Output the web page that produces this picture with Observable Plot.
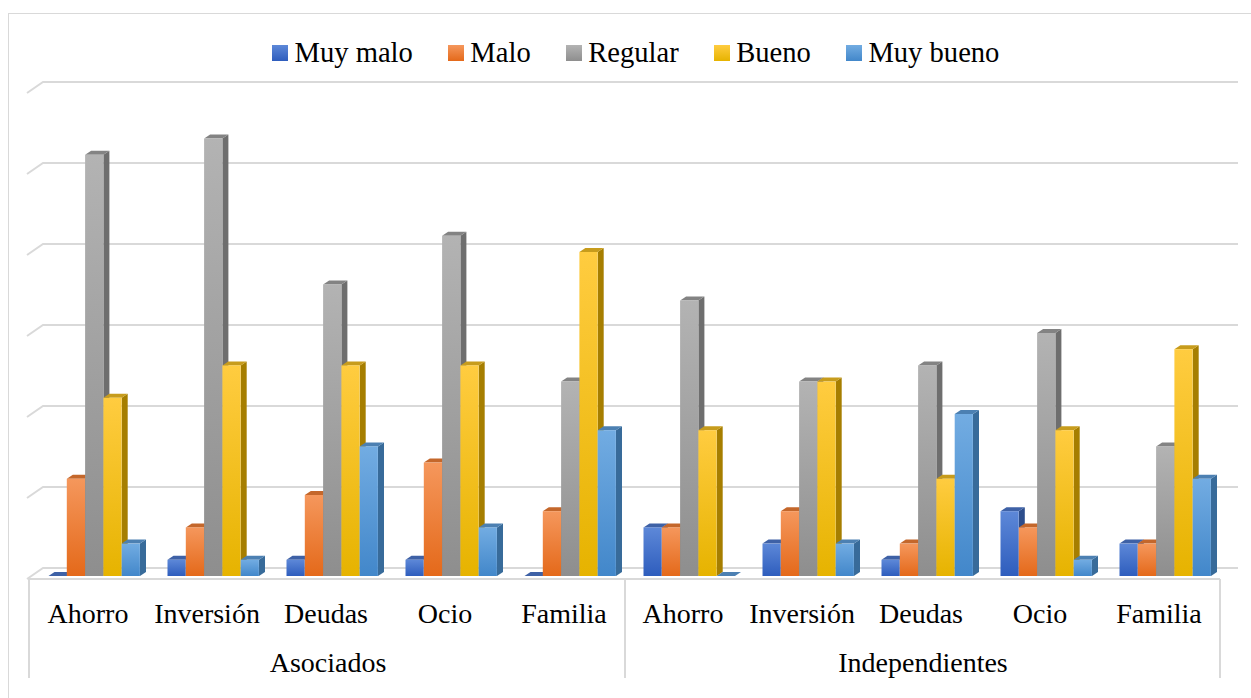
<!DOCTYPE html>
<html><head><meta charset="utf-8">
<script src="https://cdn.jsdelivr.net/npm/d3@7"></script>
<script src="https://cdn.jsdelivr.net/npm/@observablehq/plot@0.6"></script>
<style>
html,body{margin:0;padding:0;background:#fff;}
#wrap{position:relative;width:1251px;height:698px;overflow:hidden;background:#fff;font-family:'Liberation Serif','Times New Roman',serif;}
#frame{position:absolute;left:8px;top:13px;width:1400px;height:900px;border:1px solid #d9d9d9;box-sizing:border-box;}
#legend{position:absolute;left:272px;top:36px;height:33px;display:flex;align-items:center;color:#000;white-space:nowrap;font-size:28.6px;}
.item{display:flex;align-items:center;margin-right:35px;}
.sw{width:16px;height:16px;margin-right:6.5px;}
#chart{position:absolute;left:0;top:80px;}
</style></head>
<body><div id="wrap"><div id="frame"></div><div id="legend"></div><div id="chart"></div></div>
<script>
// ---- data ----
const seriesNames = ["Muy malo", "Malo", "Regular", "Bueno", "Muy bueno"];
const groups = ["Asociados", "Independientes"];
const categories = ["Ahorro", "Inversión", "Deudas", "Ocio", "Familia"];
// values per series: Asociados (Ahorro..Familia), Independientes (Ahorro..Familia)
const muyMalo  = [0, 1, 1, 1, 0,   3, 2, 1, 4, 2];
const malo     = [6, 3, 5, 7, 4,   3, 4, 2, 3, 2];
const regular  = [26, 27, 18, 21, 12,  17, 12, 13, 15, 8];
const bueno    = [11, 13, 13, 13, 20,  9, 12, 6, 9, 14];
const muyBueno = [2, 1, 8, 3, 9,   0, 2, 10, 1, 6];
const gridValues = [0, 5, 10, 15, 20, 25, 30];

// ---- styles ----
const palette = [
  {top: "#5d88d8", bottom: "#2e5dbd", side: "#2c4d8c", cap: "#3e61a6"},
  {top: "#f5975c", bottom: "#e4691a", side: "#a9561c", cap: "#c4672b"},
  {top: "#b3b3b3", bottom: "#8e8e8e", side: "#6e6e6e", cap: "#838383"},
  {top: "#ffcc40", bottom: "#e6b300", side: "#a67e00", cap: "#c79c1c"},
  {top: "#72ace2", bottom: "#4287ca", side: "#386b9a", cap: "#4c80b2"}
];
const fontFamily = "'Liberation Serif', 'Times New Roman', serif";
const labelSize = 28;

// legend
const legend = document.getElementById("legend");
seriesNames.forEach((name, i) => {
  const it = document.createElement("div");
  it.className = "item";
  const sw = document.createElement("div");
  sw.className = "sw";
  sw.style.background = `linear-gradient(${palette[i].top}, ${palette[i].bottom})`;
  const t = document.createElement("span");
  t.textContent = name;
  it.appendChild(sw); it.appendChild(t);
  legend.appendChild(it);
});

const keys = groups.flatMap(g => categories.map(c => g + "|" + c));
const seriesValues = [muyMalo, malo, regular, bueno, muyBueno];
const rows = seriesValues.map((vals, s) => vals.map((v, j) => ({key: keys[j], value: v, s})));

const W = 1251, H = 618;
const mL = 29, mR = 31, mT = 10, mB = 122;
const bandW = (W - mL - mR) / keys.length;
const barW = 18.3, barOff = 18.5, depthX = 6, depthY = 4;
const insetL = s => barOff + s * barW;
const insetR = s => bandW - insetL(s) - barW;
const lineColor = "#d9d9d9";

function defsMark() {
  const g = d3.create("svg:g");
  const defs = g.append("defs");
  palette.forEach((p, i) => {
    const lg = defs.append("linearGradient").attr("id", "grad" + i)
      .attr("x1", 0).attr("y1", 0).attr("x2", 0).attr("y2", 1);
    lg.append("stop").attr("offset", "0%").attr("stop-color", p.top);
    lg.append("stop").attr("offset", "100%").attr("stop-color", p.bottom);
  });
  return g.node();
}

function gridMark(index, scales, values, dims) {
  const {y} = scales;
  const g = d3.create("svg:g").attr("fill", "none").attr("stroke", lineColor).attr("stroke-width", 2);
  const x0 = dims.marginLeft, x1 = dims.width - dims.marginRight;
  for (const v of gridValues) {
    const yb = y(v) - 8;
    g.append("path").attr("d", `M${x0 - 2},${yb + 11}L${x0 + 14},${yb}L${x1 + 18},${yb}`);
  }
  return g.node();
}

function axisMark(index, scales, values, dims) {
  const {x, y} = scales;
  const g = d3.create("svg:g").attr("fill", "none").attr("stroke", lineColor).attr("stroke-width", 2);
  const x0 = dims.marginLeft, x1 = dims.width - dims.marginRight;
  const yf = y(0) + 3;
  g.append("path").attr("d", `M${x0},${yf}H${x1}`);
  const splits = [x0, x(keys[categories.length]), x1];
  for (const xs of splits) g.append("path").attr("d", `M${xs},${yf}V${yf + 99}`);
  return g.node();
}

function facesMark(s) {
  return (index, scales) => {
    const {x, y} = scales;
    const g = d3.create("svg:g");
    for (const r of rows[s]) {
      const l = x(r.key) + insetL(s), rt = l + barW;
      const t = y(r.value), b = y(0);
      g.append("path").attr("fill", palette[s].side)
        .attr("d", `M${rt},${t}L${rt + depthX},${t - depthY}L${rt + depthX},${b - depthY}L${rt},${b}Z`);
      g.append("path").attr("fill", palette[s].cap)
        .attr("d", `M${l},${t}L${l + depthX},${t - depthY}L${rt + depthX},${t - depthY}L${rt},${t}Z`);
    }
    return g.node();
  };
}

const barMarks = rows.flatMap((data, s) => [
  facesMark(s),
  Plot.barY(data, {x: "key", y: "value", fill: `url(#grad${s})`, insetLeft: insetL(s), insetRight: insetR(s)})
]);

// baseline targets (svg coords): categories 542, groups 591; middle anchor => baseline = y + 0.32em
const catDy = 542 - 0.32 * labelSize - (H - mB);
const grpDy = 591 - 0.32 * labelSize - (H - mB);

const chart = Plot.plot({
  width: W, height: H,
  marginLeft: mL, marginRight: mR, marginTop: mT, marginBottom: mB,
  x: {domain: keys, padding: 0, axis: null},
  y: {domain: [0, 30], axis: null},
  style: {fontFamily, background: "transparent", overflow: "visible", color: "#000"},
  marks: [
    defsMark,
    gridMark,
    ...barMarks,
    axisMark,
    Plot.text(keys, {x: d => d, text: d => d.split("|")[1], frameAnchor: "bottom", lineAnchor: "middle", dy: catDy, dx: -2, fontSize: labelSize, fill: "#000"}),
    Plot.text(groups, {x: g => g + "|" + categories[2], text: d => d, frameAnchor: "bottom", lineAnchor: "middle", dy: grpDy, fontSize: labelSize, fill: "#000"})
  ]
});
document.getElementById("chart").appendChild(chart);
</script>
</body></html>
